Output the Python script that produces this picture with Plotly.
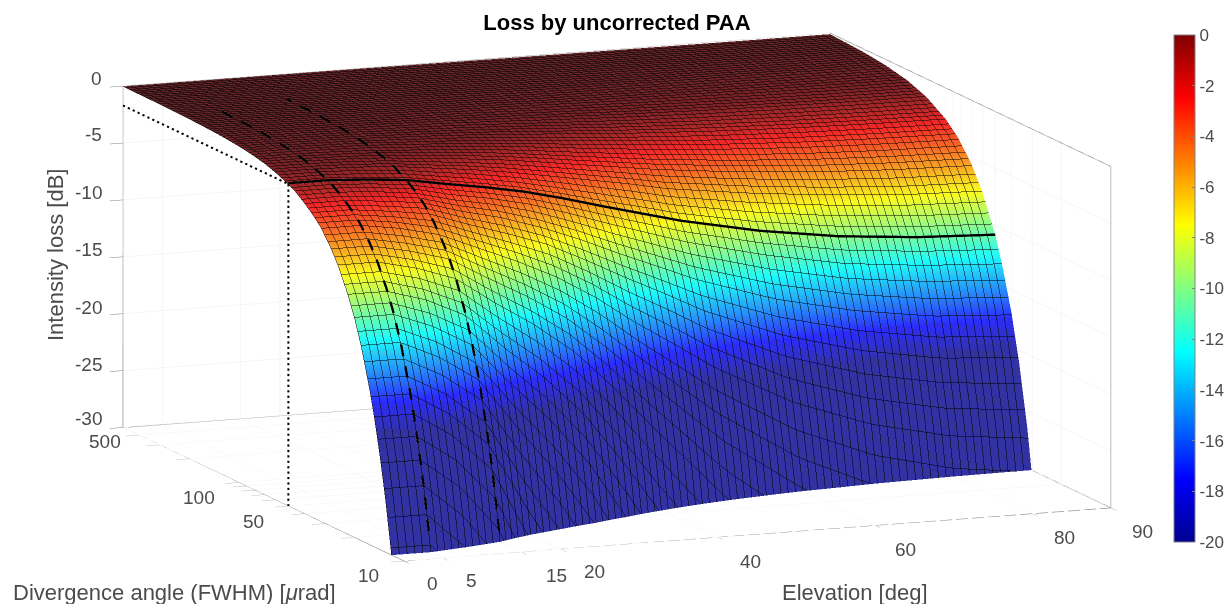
import numpy as np
import plotly.graph_objects as go

title_text = "Loss by uncorrected PAA"
elevation = [0, 5, 10, 15, 20, 25, 30, 35, 40, 45, 50, 60, 70, 80, 90]
divergence = [10, 11, 12, 13, 14, 15, 16, 18, 20, 22, 25, 28, 32, 36, 40, 45, 50, 60, 70, 85, 100, 130, 170, 230, 320, 500]
loss = [
 [-42.5,-42.5,-47.5,-55,-60,-60,-60,-60,-60,-60,-60,-60,-60,-60,-60],
 [-35.1,-35.1,-39.3,-45.5,-57.8,-60,-60,-60,-60,-60,-60,-60,-60,-60,-60],
 [-29.5,-29.5,-33,-38.2,-48.6,-58.2,-60,-60,-60,-60,-60,-60,-60,-60,-60],
 [-25.1,-25.1,-28.1,-32.5,-41.4,-49.5,-59.2,-60,-60,-60,-60,-60,-60,-60,-60],
 [-21.7,-21.7,-24.2,-28.1,-35.7,-42.7,-51,-60,-60,-60,-60,-60,-60,-60,-60],
 [-18.9,-18.9,-21.1,-24.4,-31.1,-37.2,-44.4,-53.9,-60,-60,-60,-60,-60,-60,-60],
 [-16.6,-16.6,-18.6,-21.5,-27.4,-32.7,-39.1,-47.4,-56.7,-60,-60,-60,-60,-60,-60],
 [-13.1,-13.1,-14.7,-17,-21.6,-25.9,-30.9,-37.4,-44.8,-51.7,-58.7,-60,-60,-60,-60],
 [-10.6,-10.6,-11.9,-13.8,-17.5,-20.9,-25,-30.3,-36.3,-41.9,-47.5,-56.3,-60,-60,-60],
 [-8.8,-8.8,-9.8,-11.4,-14.5,-17.3,-20.7,-25.1,-30,-34.6,-39.3,-46.5,-51.7,-54.8,-56.4],
 [-6.8,-6.8,-7.6,-8.8,-11.2,-13.4,-16,-19.4,-23.2,-26.8,-30.4,-36,-40,-42.4,-43.6],
 [-5.4,-5.4,-6.1,-7,-8.9,-10.7,-12.8,-15.5,-18.5,-21.4,-24.2,-28.7,-31.9,-33.8,-34.8],
 [-4.1,-4.1,-4.6,-5.4,-6.8,-8.2,-9.8,-11.8,-14.2,-16.3,-18.5,-22,-24.4,-25.9,-26.6],
 [-3.3,-3.3,-3.7,-4.2,-5.4,-6.5,-7.7,-9.4,-11.2,-12.9,-14.7,-17.4,-19.3,-20.5,-21],
 [-2.7,-2.7,-3,-3.4,-4.4,-5.2,-6.3,-7.6,-9.1,-10.5,-11.9,-14.1,-15.6,-16.6,-17],
 [-2.1,-2.1,-2.3,-2.7,-3.5,-4.1,-4.9,-6,-7.2,-8.3,-9.4,-11.1,-12.4,-13.1,-13.5],
 [-1.7,-1.7,-1.9,-2.2,-2.8,-3.35,-4,-4.85,-5.8,-6.7,-7.6,-9,-10,-10.6,-10.9],
 [-1.2,-1.2,-1.3,-1.5,-1.9,-2.3,-2.8,-3.4,-4,-4.6,-5.3,-6.2,-6.9,-7.4,-7.6],
 [-.87,-.87,-.97,-1.12,-1.43,-1.71,-2.04,-2.47,-2.96,-3.42,-3.88,-4.59,-5.1,-5.41,-5.56],
 [-.59,-.59,-.66,-.76,-.97,-1.16,-1.38,-1.68,-2.01,-2.32,-2.63,-3.11,-3.46,-3.67,-3.77],
 [-.43,-.43,-.48,-.55,-.7,-.84,-1,-1.21,-1.45,-1.68,-1.9,-2.25,-2.5,-2.65,-2.73],
 [-.25,-.25,-.28,-.33,-.41,-.5,-.59,-.72,-.86,-.99,-1.12,-1.33,-1.48,-1.57,-1.61],
 [-.15,-.15,-.16,-.19,-.24,-.29,-.35,-.42,-.5,-.58,-.66,-.78,-.87,-.92,-.94],
 [-.08,-.08,-.09,-.1,-.13,-.16,-.19,-.23,-.27,-.32,-.36,-.43,-.47,-.5,-.52],
 [-.04,-.04,-.05,-.05,-.07,-.08,-.1,-.12,-.14,-.16,-.19,-.22,-.24,-.26,-.27],
 [-.02,-.02,-.02,-.02,-.03,-.03,-.04,-.05,-.06,-.07,-.08,-.09,-.1,-.11,-.11],
]
x_ticks = [0, 5, 15, 20, 40, 60, 80, 90]
x_text = ["0", "5", "15", "20", "40", "60", "80", "90"]
y_ticks = [10, 20, 30, 40, 50, 60, 70, 80, 90, 100, 200, 300, 400, 500]
y_text = ["10", "50", "100", "500"]
z_ticks = [-30, -25, -20, -15, -10, -5, 0]
z_text = ["-30", "-25", "-20", "-15", "-10", "-5", "0"]
cbar_ticks = [0, -2, -4, -6, -8, -10, -12, -14, -16, -18, -20]
cbar_text = ["0", "-2", "-4", "-6", "-8", "-10", "-12", "-14", "-16", "-18", "-20"]
x_lim = [0, 90]
y_lim = [10, 500]
z_lim = [-30, 0]

# label anchor pixels on the page
x_label_px = [(432, 583), (471, 580), (556, 575), (594, 571), (750, 561), (905, 549), (1064, 537), (1142, 531)]
y_label_px = [(368, 575), (253, 521), (199, 497), (105, 441)]
z_label_y_px = [418, 364, 307, 249, 192, 135, 78]

jet = [[0, "rgb(0,0,143)"], [.125, "rgb(0,0,255)"], [.375, "rgb(0,255,255)"],
       [.625, "rgb(255,255,0)"], [.875, "rgb(255,0,0)"], [1, "rgb(128,0,0)"]]
face = [[0, "rgb(22,22,150)"], [.125, "rgb(15,15,250)"], [.375, "rgb(0,250,250)"],
        [.625, "rgb(250,250,0)"], [.855, "rgb(245,10,10)"], [.9, "rgb(165,10,10)"],
        [.945, "rgb(110,5,10)"], [1, "rgb(80,8,12)"]]
GREY = "rgb(130,130,130)"
TXT = "rgb(75,75,75)"
FONT = "Liberation Sans"


def broken_line(fs, zs, on_px, off_px):
    """Cut a line into pieces of constant on-screen length, since WebGL dashes stretch on a log axis."""
    logs = np.log10(fs)
    across = np.diff(logs) * 165
    seg = np.hypot(across, np.abs(np.diff(zs)) * 11.33 + np.abs(across) * 0.475)
    run = np.concatenate([[0], np.cumsum(seg)])
    out_y, out_z = [], []
    pos = 0.0
    while pos < run[-1]:
        ts = np.linspace(pos, min(pos + on_px, run[-1]), 4)
        zz = np.interp(ts, run, zs)
        if zz[-1] >= z_lim[0]:
            out_y += list(10 ** np.interp(ts, run, logs)) + [None]
            out_z += list(zz) + [None]
        pos += on_px + off_px
    return out_y, out_z


fig = go.Figure()
fig.add_trace(go.Surface(
    x=elevation, y=divergence, z=loss, cmin=-20, cmax=0, colorscale=face, showscale=False, opacity=0.88,
    lighting=dict(ambient=1, diffuse=0, specular=0, roughness=1, fresnel=0),
    hoverinfo="skip",
    contours=dict(
        x=dict(show=True, start=0, end=90.01, size=1, color="black", width=1, highlight=False),
        y=dict(show=True, start=1, end=2.71, size=0.02, color="black", width=1, highlight=False),
        z=dict(show=False, highlight=False),
    ),
))

col5 = elevation.index(5)
col15 = elevation.index(15)
row50 = divergence.index(50)
LIFT = 0.08
for c in (col5, col15):
    fs = divergence[::-1]
    zs = [r[c] + LIFT for r in loss[::-1]]
    ys, zz = broken_line(fs, zs, 12, 10)
    fig.add_trace(go.Scatter3d(x=[elevation[c]] * len(ys), y=ys, z=zz, mode="lines", connectgaps=False,
                               line=dict(color="black", width=5), hoverinfo="skip", showlegend=False))
fig.add_trace(go.Scatter3d(x=elevation, y=[50] * len(elevation), z=[v + LIFT for v in loss[row50]], mode="lines",
                           line=dict(color="black", width=5), hoverinfo="skip", showlegend=False))
z50 = loss[row50][0]
ya, za = broken_line([y_lim[1], 50], [z50, z50], 2.2, 3.2)
yb, zb = broken_line([50, 50], [z50, z_lim[0]], 2.2, 3.2)
dot_y, dot_z = ya + yb, za + zb
fig.add_trace(go.Scatter3d(x=[x_lim[0]] * len(dot_y), y=dot_y, z=dot_z, mode="lines", connectgaps=False,
                           line=dict(color="black", width=4), hoverinfo="skip", showlegend=False))

# frame of the box
x0, x1 = x_lim; y0, y1 = y_lim; z0, z1 = z_lim
frame_x = [x0, x0, None, x0, x1, x1, x1, x1, None, x1, x0, x0, None, x0, x1]
frame_y = [y1, y1, None, y1, y1, y0, y0, y1, None, y0, y0, y1, None, y1, y1]
frame_z = [z0, z1, None, z0, z0, z0, z1, z1, None, z0, z0, z0, None, z1, z1]
fig.add_trace(go.Scatter3d(x=frame_x, y=frame_y, z=frame_z, mode="lines",
                           line=dict(color=GREY, width=1.5), hoverinfo="skip", showlegend=False))

# colour bar holder
fig.add_trace(go.Scatter3d(x=[x1], y=[y1], z=[z0], mode="markers", hoverinfo="skip", showlegend=False,
    marker=dict(size=1, color=[-20], cmin=-20, cmax=0, colorscale=jet, showscale=True,
        colorbar=dict(x=1174 / 1229, xanchor="left", y=(604 - 288.5) / 604, yanchor="middle",
                      lenmode="pixels", len=507, thicknessmode="pixels", thickness=21,
                      tickvals=cbar_ticks, ticktext=cbar_text, ticks="inside", ticklen=3, tickcolor=GREY,
                      outlinecolor=GREY, outlinewidth=1, xpad=0, ypad=0,
                      tickfont=dict(family=FONT, size=17, color=TXT)))))

axis = dict(showbackground=False, gridcolor="rgb(238,238,238)", gridwidth=1, zeroline=False,
            showline=False, ticks="outside", ticklen=14, tickcolor=GREY, tickwidth=1,
            showticklabels=False, title=dict(text=""), showspikes=False)


def page_label(text, px, py, anchor="center", size=19, angle=0):
    return dict(text=text, x=px / 1229, y=1 - py / 604, xref="paper", yref="paper", textangle=angle,
                xanchor=anchor, yanchor="middle", showarrow=False, font=dict(family=FONT, size=size, color=TXT))


labels = [page_label("Intensity loss [dB]", 55, 255, size=22, angle=-90),
          page_label("Divergence angle (FWHM) [<i>μ</i>rad]", 174, 592, size=22),
          page_label("Elevation [deg]", 855, 592, size=22)]
labels += [page_label(t, *p) for t, p in zip(x_text, x_label_px)]
labels += [page_label(t, *p) for t, p in zip(y_text, y_label_px)]
labels += [page_label(t, 104, p, anchor="right") for t, p in zip(z_text, z_label_y_px)]

D = 3.0
fig.update_layout(
    width=1229, height=604, margin=dict(l=0, r=0, t=0, b=0), paper_bgcolor="white",
    font=dict(family=FONT),
    title=dict(text="<b>%s</b>" % title_text, x=617 / 1229, xanchor="center", y=1 - 22 / 604, yanchor="middle",
               font=dict(family=FONT, size=22, color="black")),
    scene=dict(
        domain=dict(x=[0.004, 1], y=[0.0166, 1]),
        aspectmode="manual", aspectratio=dict(x=2.562, y=2.560, z=1.1705),
        camera=dict(projection=dict(type="orthographic"), up=dict(x=0, y=0, z=1),
                    center=dict(x=0, y=0, z=0), eye=dict(x=-0.3631 * D, y=-0.9124 * D, z=0.1891 * D)),
        xaxis=dict(axis, range=x_lim, tickvals=x_ticks),
        yaxis=dict(axis, type="log", range=[1, 2.69897], tickvals=y_ticks),
        zaxis=dict(axis, range=z_lim, tickvals=z_ticks),
    ),
    annotations=labels,
)
fig.write_html("out.html", config={"displayModeBar": False},
               post_script="document.body.style.margin='0';document.body.style.overflow='hidden';")
